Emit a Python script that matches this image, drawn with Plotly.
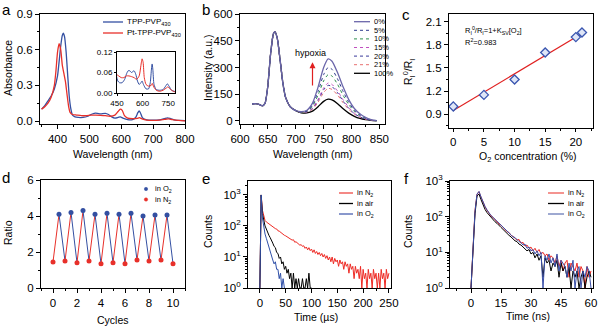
import plotly.graph_objects as go
import numpy as np

W, H = 600, 327
def PX(x): return x / W
def PY(y): return 1 - y / H

FONT = "Liberation Sans"
BLUE = "#3450a2"
RED = "#e8302a"

# ---------------- Panel a: absorption ----------------
a_tpp_wl = [350,360,370,380,390,400,405,410,415,418,422,427,432,437,442,447,455,465,480,495,505,515,525,535,550,560,570,580,590,597,605,620,635,645,652,656,660,667,680,700,720,735,745,755,770,785,800]
a_tpp_abs = [0.10,0.13,0.17,0.21,0.27,0.38,0.50,0.63,0.72,0.74,0.71,0.58,0.38,0.20,0.10,0.05,0.035,0.03,0.03,0.04,0.055,0.065,0.065,0.06,0.065,0.055,0.035,0.025,0.03,0.035,0.025,0.012,0.012,0.03,0.07,0.085,0.07,0.025,0.01,0.008,0.01,0.02,0.027,0.02,0.008,0.005,0.003]
a_pt_wl = [350,360,370,380,390,395,400,405,410,415,420,425,430,435,440,447,460,475,490,505,520,535,550,565,580,590,597,603,610,620,635,650,657,665,680,700,720,740,748,760,780,800]
a_pt_abs = [0.10,0.12,0.15,0.20,0.30,0.42,0.58,0.65,0.60,0.47,0.40,0.33,0.22,0.12,0.07,0.055,0.05,0.045,0.045,0.05,0.05,0.048,0.045,0.04,0.05,0.08,0.10,0.09,0.045,0.025,0.02,0.022,0.028,0.018,0.008,0.005,0.008,0.015,0.018,0.012,0.005,0.002]
a_names = ["TPP-PVP<sub>430</sub>", "Pt-TPP-PVP<sub>430</sub>"]

# ---------------- Panel b: emission ----------------
b_wl = [622,626,630,635,640,645,650,655,660,663,667,672,677,682,690,700,710,720,730,740,750,758,765,775,785,795,805,815,825,835,845]
b_head = [95,97,96,92,85,100,200,380,490,500,460,340,210,130,80,58]
b_names = ["0%", "5%", "10%", "15%", "20%", "21%", "100%"]
b_tail_0 = [52,60,100,190,300,348,335,270,190,120,70,40,20,8,2]
b_tail_5 = [50,56,90,165,260,300,290,235,165,105,60,35,17,7,2]
b_tail_10 = [49,54,82,145,225,260,252,205,143,92,53,30,15,6,2]
b_tail_15 = [48,52,72,122,185,213,205,168,118,76,44,25,12,5,2]
b_tail_20 = [48,51,70,115,175,200,193,158,111,71,41,23,11,5,2]
b_tail_21 = [47,50,65,105,160,183,177,145,102,65,38,21,10,4,1]
b_tail_100 = [45,46,55,80,110,122,118,97,68,44,26,14,7,3,1]
b_tails = [b_tail_0, b_tail_5, b_tail_10, b_tail_15, b_tail_20, b_tail_21, b_tail_100]
b_colors = ["#6b66aa", "#2e3a8c", "#2f8f4f", "#c050c0", "#3a3a9a", "#e87070", "#000000"]
b_dash = ["solid", "dot", "dot", "dot", "dot", "dot", "solid"]

# ---------------- Panel c: Stern-Volmer ----------------
c_o2 = [0, 5, 10, 15, 20, 21]
c_ratio = [1.0, 1.15, 1.35, 1.70, 1.90, 1.96]
c_err = [0.02, 0.015, 0.02, 0.02, 0.015, 0.02]

# ---------------- Panel d: cycles ----------------
d_n2_x = [0,1,2,3,4,5,6,7,8,9,10]
d_n2 = [1.45,1.5,1.4,1.5,1.35,1.4,1.35,1.55,1.5,1.55,1.35]
d_o2_x = [0.5,1.5,2.5,3.5,4.5,5.5,6.5,7.5,8.5,9.5]
d_o2 = [4.1,4.2,4.3,4.1,4.15,4.1,4.15,4.0,4.05,4.05]

# ---------------- Panel e: us decay ----------------
e_step = 2.5
e_n2 = [1,1000,320,200,150,135,125,118,110,100,95,88,82,80,70,68,62,58,55,50,48,45,42,40,38,35,36,30,31,28,27,24,25,22,23,19,21,17,20,16,18,14,17,13,15,12,14,11,13,10,12,9,11,8,10,7,10,6,9,7,8,5,8,6,7,4,7,5,6,3,6,4,5,2,5,3,4,2,5,1,4,2,3,1,4,2,3,1,4,2,3,1,3,1,4,2,3,1,4,2,3]
e_air = [1,1000,250,150,100,80,60,50,42,32,28,22,20,14,13,9,10,6,7,4,5,3,4,2,3,1,3,1,2,1,2,1,1,2,1,1,2,1,3,1,1]
e_o2 = [1,1000,180,90,55,40,28,20,14,11,8,6,7,4,4,2,3,1,2,1]
e_names = ["in N<sub>2</sub>", "in air", "in O<sub>2</sub>"]

# ---------------- Panel f: ns decay ----------------
f_step = 1
f_n2 = [1,20,150,420,500,350,250,190,150,125,105,95,82,72,62,58,50,45,38,36,30,28,25,22,23,18,19,15,16,13,14,11,13,10,12,9,10,8,9,6,8,7,5,8,4,6,3,5,6,2,5,4,3,5,2,4,3,1,4,2,3]
f_air = [1,15,120,380,430,300,210,160,130,110,95,85,72,65,55,50,44,38,34,30,27,24,21,20,17,16,14,13,11,12,9,10,7,9,6,8,2,7,5,6,3,5,4,6,2,5,3,4,2,4,1,3,2,3,1,2,3,1,2,3,2]
f_o2 = [1,18,140,430,510,360,255,195,155,128,108,96,84,74,64,57,52,44,40,35,31,27,26,22,20,19,16,17,13,14,11,12,9,11,8,10,1,8,6,9,5,7,4,9,3,6,5,4,2,5,3,6,1,3,4,1,3,2,4,3,1]

fig = go.Figure()

# a traces
for wl, ab, col in [(a_tpp_wl, a_tpp_abs, BLUE), (a_pt_wl, a_pt_abs, RED)]:
    fig.add_trace(go.Scatter(x=wl, y=ab, mode="lines", line=dict(color=col, width=1.3, shape="spline", smoothing=0.6), xaxis="x", yaxis="y"))
    fig.add_trace(go.Scatter(x=wl, y=ab, mode="lines", line=dict(color=col, width=1.0, shape="spline", smoothing=0.6), xaxis="x2", yaxis="y2"))

# b traces (drawn from 100% to 0% so that the 0% curve lies on top)
for tail, col, dash in reversed(list(zip(b_tails, b_colors, b_dash))):
    fig.add_trace(go.Scatter(x=b_wl, y=b_head + tail, mode="lines",
                             line=dict(color=col, width=1.3 if dash == "solid" else 1.0, dash=dash, shape="spline", smoothing=0.6),
                             xaxis="x3", yaxis="y3"))

# c traces
slope, intercept = np.polyfit(c_o2, c_ratio, 1)
fit_x = [min(c_o2), max(c_o2)]
fit_y = [intercept + slope * v for v in fit_x]
fig.add_trace(go.Scatter(x=fit_x, y=fit_y, mode="lines", line=dict(color="#e02020", width=1.2), xaxis="x4", yaxis="y4"))
fig.add_trace(go.Scatter(x=c_o2, y=c_ratio, mode="markers",
                         marker=dict(symbol="diamond", size=7, color="#dfe6f7", line=dict(color="#3a56b0", width=1.3)),
                         error_y=dict(type="data", array=c_err, color="#3a56b0", thickness=1, width=2),
                         xaxis="x4", yaxis="y4"))

# d traces
rx, ry, bx, by = [], [], [], []
for i in range(len(d_o2)):
    rx += [d_n2_x[i], d_o2_x[i], None]
    ry += [d_n2[i], d_o2[i], None]
    bx += [d_o2_x[i], d_n2_x[i + 1], None]
    by += [d_o2[i], d_n2[i + 1], None]
fig.add_trace(go.Scatter(x=rx, y=ry, mode="lines", line=dict(color=RED, width=1), xaxis="x5", yaxis="y5"))
fig.add_trace(go.Scatter(x=bx, y=by, mode="lines", line=dict(color=BLUE, width=1), xaxis="x5", yaxis="y5"))
fig.add_trace(go.Scatter(x=d_o2_x, y=d_o2, mode="markers", marker=dict(color=BLUE, size=5), xaxis="x5", yaxis="y5"))
fig.add_trace(go.Scatter(x=d_n2_x, y=d_n2, mode="markers", marker=dict(color=RED, size=5), xaxis="x5", yaxis="y5"))

# e traces
for data, col in [(e_n2, "#ee2a24"), (e_air, "#000000"), (e_o2, "#3050a8")]:
    t = [i * e_step for i in range(len(data))]
    fig.add_trace(go.Scatter(x=t, y=data, mode="lines", line=dict(color=col, width=1), xaxis="x6", yaxis="y6"))

# f traces
for data, col in [(f_n2, "#ee2a24"), (f_air, "#000000"), (f_o2, "#3a4fa8")]:
    t = [i * f_step for i in range(len(data))]
    fig.add_trace(go.Scatter(x=t, y=data, mode="lines", line=dict(color=col, width=1), xaxis="x7", yaxis="y7"))


def axis(domain, anchor, rng, size=11.5, **kw):
    d = dict(domain=domain, anchor=anchor, range=rng, showline=True, linecolor="black", linewidth=1,
             mirror=True, ticks="outside", ticklen=4, tickwidth=1, tickcolor="black", showgrid=False,
             zeroline=False, tickfont=dict(family=FONT, size=size, color="black"))
    d.update(kw)
    return d

def mn(dt, t0=0, ln=2):
    return dict(ticks="outside", ticklen=ln, tickcolor="black", dtick=dt, tick0=t0, showgrid=False)

log_minor = dict(ticks="outside", ticklen=2, tickcolor="black", showgrid=False,
                 tickvals=[v * 10 ** k for k in range(0, 4) for v in range(2, 10)])
log_vals = [1, 10, 100, 1000]
log_text = ["10<sup>0</sup>", "10<sup>1</sup>", "10<sup>2</sup>", "10<sup>3</sup>"]

layout = dict(
    width=W, height=327, margin=dict(l=0, r=0, t=0, b=0), template="none",
    plot_bgcolor="white", paper_bgcolor="white", showlegend=False,
    font=dict(family=FONT, color="black"),
    # a
    xaxis=axis([PX(40), PX(185)], "y", [345, 800], tickmode="linear", tick0=400, dtick=100, minor=mn(50)),
    yaxis=axis([PY(124), PY(14)], "x", [-0.025, 0.9], tickmode="linear", tick0=0, dtick=0.3, tickformat=".1f", minor=mn(0.15)),
    # inset
    xaxis2=axis([PX(117), PX(175)], "y2", [450, 790], size=8, ticklen=2, tickmode="array", tickvals=[450, 600, 750]),
    yaxis2=axis([PY(93), PY(52)], "x2", [0, 0.12], size=8, ticklen=2, tickmode="array", tickvals=[0, 0.06, 0.12], tickformat=".2f"),
    # b
    xaxis3=axis([PX(240), PX(385)], "y3", [600, 860], tickmode="linear", tick0=600, dtick=50, minor=mn(25)),
    yaxis3=axis([PY(124), PY(14)], "x3", [-17, 600], tickmode="linear", tick0=0, dtick=150, minor=mn(75)),
    # c
    xaxis4=axis([PX(449), PX(593)], "y4", [-0.7, 22.8], ticklen=3, tickmode="linear", tick0=0, dtick=5, minor=mn(2.5)),
    yaxis4=axis([PY(128), PY(14)], "x4", [0.72, 2.2], tickmode="linear", tick0=0.9, dtick=0.3, tickformat=".1f", minor=mn(0.15, 0.9)),
    # d
    xaxis5=axis([PX(41), PX(185)], "y5", [-1, 11], tickmode="linear", tick0=0, dtick=2, minor=mn(1)),
    yaxis5=axis([PY(288), PY(180)], "x5", [0, 6], tickmode="linear", tick0=0, dtick=2, minor=mn(1)),
    # e
    xaxis6=axis([PX(248), PX(391)], "y6", [-23, 254], tickmode="linear", tick0=0, dtick=50, minor=mn(25)),
    yaxis6=axis([PY(288), PY(181)], "x6", [0, 3.45], type="log", tickmode="array", tickvals=log_vals, ticktext=log_text, minor=log_minor),
    # f
    xaxis7=axis([PX(450), PX(593)], "y7", [-10.5, 61], tickmode="linear", tick0=0, dtick=15, minor=mn(7.5)),
    yaxis7=axis([PY(288), PY(181)], "x7", [0, 3], type="log", tickmode="array", tickvals=log_vals, ticktext=log_text, minor=log_minor),
)
fig.update_layout(**layout)

ann = []
def txt(x, y, s, size=10.5, angle=0, xanchor="center", color="black"):
    ann.append(dict(x=PX(x), y=PY(y), xref="paper", yref="paper", text=s, showarrow=False,
                    textangle=angle, xanchor=xanchor, yanchor="middle",
                    font=dict(family=FONT, size=size, color=color)))

# panel letters
for lx, ly, l in [(6, 10, "a"), (206, 10, "b"), (406, 15, "c"), (6, 177, "d"), (206, 178, "e"), (406, 178, "f")]:
    txt(lx, ly, l, size=15)

# axis titles
txt(8, 68, "Absorbance", angle=-90)
txt(113, 154, "Wavelength (nm)")
txt(208, 68, "Intensity (a.u.)", angle=-90)
txt(313, 154, "Wavelength (nm)")
txt(409, 72, "R<sub>I</sub><sup>0</sup>/R<sub>I</sub>", angle=-90)
txt(527, 157, "O<sub>2</sub> concentration (%)")
txt(8, 233, "Ratio", angle=-90)
txt(113, 320, "Cycles")
txt(208, 232, "Counts", angle=-90)
txt(316, 317, "Time (\u00b5s)")
txt(408, 232, "Counts", angle=-90)
txt(528, 316, "Time (ns)")

shapes = []
def seg(x0, x1, y, col, w=1.3, dash="solid"):
    shapes.append(dict(type="line", xref="paper", yref="paper", x0=PX(x0), x1=PX(x1), y0=PY(y), y1=PY(y),
                       line=dict(color=col, width=w, dash=dash)))

# legend a
for i, (nm, col) in enumerate(zip(a_names, [BLUE, RED])):
    y = 22 + 11 * i
    seg(103, 123, y, col)
    txt(125, y, nm, size=8, xanchor="left")

# legend b
for i, (nm, col, dash) in enumerate(zip(b_names, b_colors, b_dash)):
    y = 21.7 + 8.6 * i
    seg(354, 370, y, col, w=1.3 if dash == "solid" else 1.0, dash=dash)
    txt(372, y, nm, size=7.5, xanchor="left")

# c equation
txt(463, 30.5, "R<sub>I</sub><sup>0</sup>/R<sub>I</sub>=1+K<sub>SV</sub>[O<sub>2</sub>]", size=7.5, xanchor="left")
txt(463, 42.5, "R<sup>2</sup>=0.983", size=7.5, xanchor="left")

# legend d
for i, (nm, col) in enumerate(zip(["in O<sub>2</sub>", "in N<sub>2</sub>"], [BLUE, RED])):
    y = 189 + 10.5 * i
    shapes.append(dict(type="circle", xref="paper", yref="paper", x0=PX(144.3), x1=PX(147.7), y0=PY(y + 1.7), y1=PY(y - 1.7),
                       fillcolor=col, line=dict(color=col, width=0.5)))
    txt(153, y, nm, size=7.5, xanchor="left")

# legend e, f
for (x0, x1, tx), cols in [((339, 353, 355), ["#ee4a44", "#000000", "#4a60b0"]),
                           ((548, 564, 566), ["#ee5a54", "#000000", "#6a7ab8"])]:
    for i, (nm, col) in enumerate(zip(e_names, cols)):
        y = 193 + 10.5 * i
        seg(x0, x1, y, col, w=1.3)
        txt(tx, y, nm, size=7.5, xanchor="left")

# hypoxia arrow in b
ann.append(dict(x=730, y=330, ax=730, ay=190, xref="x3", yref="y3", axref="x3", ayref="y3",
                showarrow=True, arrowhead=2, arrowsize=1, arrowwidth=1.2, arrowcolor="#e02020", text=""))
ann.append(dict(x=727, y=380, xref="x3", yref="y3", text="hypoxia", showarrow=False,
                font=dict(family=FONT, size=9, color="black")))

fig.update_layout(annotations=ann, shapes=shapes)
fig.write_html("out.html")
